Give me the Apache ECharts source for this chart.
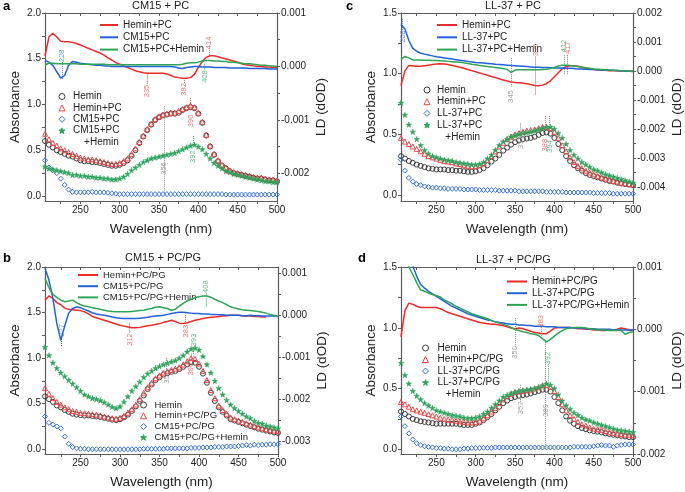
<!DOCTYPE html>
<html>
<head>
<meta charset="utf-8">
<script src="https://cdn.jsdelivr.net/npm/echarts@6/dist/echarts.min.js"></script>
<style>
html, body { margin: 0; background: #fff; }
#chart { width: 685px; height: 492px; }
</style>
</head>
<body>
<div id="chart"></div>
<script>
// wavelength grid (nm), shared by every curve
const wl = [205,210,215,220,225,230,235,240,245,250,255,260,265,270,275,280,285,290,295,300,
  305,310,315,320,325,330,335,340,345,350,355,360,365,370,375,380,385,390,395,400,
  405,410,415,420,425,430,435,440,445,450,455,460,465,470,475,480,485,490,495,500]

const wlLabels = [250, 300, 350, 400, 450, 500]
const wlTicks = [225, 250, 275, 300, 325, 350, 375, 400, 425, 450, 475, 500]
const abs2Labels = [0, 0.5, 1, 1.5, 2]
const abs15Labels = [0, 0.5, 1, 1.5]
// LD values below are in units of 0.001 dOD
const ldLabelsA = [-2, -1, 0, 1]
const ldLabelsB = [-3, -2, -1, 0, 1]
const ldLabelsC = [-4, -3, -2, -1, 0, 1, 2]
const ldLabelsD = [-2, -1, 0, 1]

// ---- a : CM15 + PC ----
const aHemin = [0.60,0.56,0.53,0.50,0.48,0.46,0.44,0.43,0.41,0.39,
  0.38,0.38,0.37,0.37,0.36,0.35,0.34,0.33,0.33,0.34,
  0.36,0.39,0.44,0.50,0.58,0.65,0.72,0.78,0.83,0.86,
  0.88,0.89,0.90,0.90,0.91,0.94,0.96,0.97,0.96,0.90,
  0.80,0.66,0.54,0.45,0.38,0.33,0.30,0.27,0.25,0.24,
  0.23,0.22,0.21,0.20,0.19,0.19,0.18,0.17,0.17,0.16]
const aHemPC = [0.68,0.62,0.58,0.55,0.52,0.50,0.48,0.46,0.44,0.42,
  0.41,0.40,0.40,0.39,0.38,0.37,0.36,0.35,0.35,0.36,
  0.38,0.41,0.46,0.52,0.59,0.66,0.73,0.79,0.84,0.87,
  0.89,0.90,0.91,0.91,0.93,0.95,0.97,0.99,0.97,0.91,
  0.81,0.67,0.55,0.46,0.39,0.34,0.31,0.28,0.26,0.25,
  0.24,0.23,0.22,0.21,0.20,0.20,0.19,0.18,0.18,0.17]
const aPep = [0.39,0.31,0.28,0.25,0.19,0.12,0.07,0.045,0.04,0.04,
  0.04,0.04,0.045,0.04,0.04,0.04,0.035,0.03,0.025,0.02,
  0.02,0.02,0.02,0.02,0.02,0.02,0.02,0.02,0.02,0.02,
  0.02,0.02,0.02,0.02,0.02,0.02,0.02,0.02,0.02,0.02,
  0.02,0.02,0.02,0.02,0.02,0.02,0.015,0.015,0.015,0.015,
  0.015,0.015,0.015,0.015,0.015,0.015,0.015,0.015,0.015,0.015]
const aMix = [0.32,0.30,0.29,0.28,0.27,0.26,0.25,0.23,0.23,0.22,
  0.22,0.21,0.21,0.20,0.20,0.19,0.19,0.18,0.18,0.19,
  0.21,0.24,0.28,0.31,0.34,0.37,0.39,0.41,0.42,0.43,
  0.44,0.45,0.46,0.47,0.49,0.51,0.53,0.55,0.56,0.54,
  0.51,0.46,0.41,0.36,0.33,0.30,0.27,0.26,0.24,0.23,
  0.22,0.21,0.20,0.19,0.18,0.17,0.16,0.16,0.15,0.15]
const aLdHem = [0.20,0.55,0.62,0.55,0.47,0.46,0.46,0.45,0.43,0.40,
  0.37,0.34,0.31,0.28,0.25,0.21,0.16,0.12,0.07,0.04,
  0.01,-0.02,-0.05,-0.08,-0.10,-0.12,-0.13,-0.13,-0.13,-0.13,
  -0.13,-0.14,-0.17,-0.20,-0.21,-0.22,-0.22,-0.21,-0.15,-0.02,
  0.09,0.17,0.20,0.20,0.18,0.16,0.14,0.12,0.10,0.08,
  0.05,0.03,0.02,0.01,0.00,0.00,-0.01,-0.01,-0.02,-0.02]
const aLdPep = [0.11,0.08,0.02,-0.10,-0.22,-0.17,0.02,0.09,0.08,0.06,
  0.05,0.04,0.03,0.02,0.02,0.01,0.01,0.00,0.00,0.00,
  0.00,0.00,0.00,0.00,0.00,0.00,0.00,0.00,0.00,0.00,
  0.00,0.00,0.00,-0.01,-0.03,-0.04,-0.02,-0.01,0.00,0.00,
  -0.01,-0.01,-0.01,-0.02,-0.02,-0.02,-0.02,-0.03,-0.03,-0.03,
  -0.03,-0.03,-0.04,-0.04,-0.04,-0.04,-0.04,-0.05,-0.05,-0.05]
const aLdMix = [0.03,0.06,0.06,0.05,0.05,0.05,0.05,0.05,0.05,0.04,
  0.04,0.04,0.04,0.04,0.04,0.04,0.03,0.03,0.03,0.03,
  0.03,0.03,0.03,0.03,0.03,0.03,0.03,0.03,0.03,0.03,
  0.03,0.03,0.03,0.03,0.03,0.04,0.06,0.07,0.07,0.08,
  0.10,0.11,0.11,0.10,0.10,0.09,0.09,0.08,0.08,0.07,
  0.06,0.05,0.05,0.04,0.03,0.02,0.02,0.01,0.01,0.00]
// [wavelength, text, text y, line from, line to, colour key]
const aNotesLd = [[227,'228',0.20,0.08,-0.24,'pep'],[335,'335',-0.46,-0.115,-0.34,'hem'],
  [382,'382',-0.43,-0.22,-0.33,'hem'],[408,'408',-0.19,0.05,-0.07,'mix'],[414,'414',0.44,0.34,0.17,'hem']]
const aNotesAbs = [[356,'356',0.30,0.98,0.0,'ref'],[390,'390',0.82,1.07,0.98,'hem'],[393,'392',0.43,0.655,0.556,'mix']]

// ---- b : CM15 + PC/PG ----
const bHemin = [0.58,0.55,0.52,0.48,0.46,0.43,0.41,0.39,0.38,0.375,
  0.37,0.37,0.365,0.36,0.355,0.345,0.335,0.325,0.32,0.33,
  0.35,0.38,0.42,0.47,0.53,0.59,0.66,0.71,0.76,0.79,
  0.82,0.835,0.85,0.86,0.88,0.905,0.93,0.955,0.95,0.905,
  0.83,0.73,0.62,0.53,0.46,0.41,0.37,0.33,0.315,0.30,
  0.285,0.27,0.255,0.24,0.225,0.215,0.205,0.195,0.185,0.18]
const bHemPC = [0.67,0.61,0.56,0.52,0.49,0.46,0.44,0.42,0.41,0.40,
  0.395,0.39,0.385,0.38,0.37,0.36,0.35,0.34,0.335,0.345,
  0.365,0.40,0.44,0.49,0.55,0.62,0.68,0.73,0.78,0.81,
  0.84,0.855,0.87,0.885,0.90,0.93,0.965,1.00,0.99,0.94,
  0.86,0.76,0.65,0.56,0.48,0.43,0.39,0.35,0.33,0.315,
  0.30,0.285,0.27,0.255,0.24,0.23,0.22,0.21,0.205,0.20]
const bPep = [0.36,0.29,0.27,0.25,0.23,0.14,0.06,0.025,0.01,0.005,
  0.005,0.00,0.00,0.00,0.00,0.00,0.00,0.00,0.00,0.00,
  0.00,0.00,0.00,0.00,0.00,0.005,0.005,0.005,0.005,0.005,
  0.005,0.01,0.01,0.01,0.01,0.01,0.01,0.015,0.015,0.015,
  0.02,0.02,0.02,0.025,0.025,0.025,0.03,0.03,0.03,0.035,
  0.04,0.045,0.04,0.05,0.045,0.05,0.05,0.055,0.055,0.055]
const bMix = [1.12,1.03,0.95,0.89,0.84,0.80,0.76,0.72,0.68,0.64,
  0.60,0.58,0.56,0.55,0.535,0.515,0.49,0.465,0.45,0.47,
  0.52,0.58,0.64,0.69,0.74,0.79,0.83,0.86,0.89,0.91,
  0.93,0.945,0.96,0.975,1.00,1.03,1.07,1.10,1.11,1.09,
  1.02,0.93,0.84,0.75,0.67,0.60,0.54,0.49,0.45,0.42,
  0.39,0.36,0.34,0.31,0.29,0.28,0.26,0.25,0.24,0.23]
const bLdHem = [0.36,0.46,0.40,0.30,0.25,0.17,0.14,0.13,0.12,0.11,
  0.08,0.03,-0.03,-0.06,-0.09,-0.12,-0.15,-0.18,-0.21,-0.24,
  -0.26,-0.28,-0.30,-0.30,-0.29,-0.27,-0.25,-0.24,-0.22,-0.20,
  -0.17,-0.15,-0.12,-0.15,-0.19,-0.20,-0.18,-0.15,-0.12,-0.10,
  -0.08,-0.06,-0.05,-0.04,-0.03,-0.02,-0.01,0.00,0.00,0.00,
  -0.01,-0.02,-0.02,-0.03,-0.03,-0.04,-0.04,null,null,null]
const bLdPep = [1.12,0.84,0.40,-0.20,-0.60,-0.25,0.05,0.16,0.20,0.18,
  0.14,0.10,0.06,0.03,0.01,0.00,-0.02,-0.04,-0.06,-0.07,
  -0.08,-0.08,-0.08,-0.08,-0.07,-0.06,-0.05,-0.03,-0.02,-0.01,
  0.00,0.02,0.04,0.06,0.07,0.07,0.06,0.05,0.04,0.04,
  0.03,0.03,0.02,0.02,0.01,0.01,0.00,0.00,0.00,0.00,
  -0.01,-0.01,0.00,-0.01,-0.01,-0.02,-0.02,-0.02,-0.02,-0.03]
const bLdMix = [0.88,0.66,0.50,0.42,0.36,0.32,0.34,0.36,0.30,0.25,
  0.22,0.20,0.18,0.16,0.14,0.12,0.10,0.09,0.08,0.08,
  0.08,0.08,0.09,0.10,0.11,0.12,0.14,0.16,0.19,0.20,
  0.18,0.16,0.12,0.14,0.22,0.28,0.34,0.38,0.42,0.44,
  0.46,0.46,0.43,0.38,0.34,0.30,0.25,0.20,0.17,0.15,
  0.13,0.12,0.11,0.10,0.09,0.07,0.05,0.02,0.00,-0.03]
const bNotesLd = [[226,'227',-0.36,-0.52,-0.76,'pep'],[312,'312',-0.58,-0.2,-0.42,'hem'],
  [383,'383',-0.38,0.0,-0.22,'hem'],[409,'408',0.68,0.52,0.2,'mix']]
const bNotesAbs = [[359,'359',0.79,1.0,0.87,'ref'],[390,'390',0.88,1.05,0.98,'hem'],[393,'393',1.20,1.12,1.03,'mix']]

// ---- c : LL-37 + PC ----
const cHemin = [0.32,0.30,0.28,0.265,0.25,0.24,0.23,0.22,0.215,0.21,
  0.21,0.21,0.205,0.205,0.20,0.20,0.195,0.19,0.19,0.195,
  0.205,0.22,0.245,0.275,0.30,0.33,0.365,0.39,0.415,0.435,
  0.45,0.46,0.465,0.47,0.48,0.495,0.51,0.515,0.505,0.47,
  0.42,0.37,0.32,0.28,0.245,0.22,0.20,0.18,0.165,0.155,
  0.145,0.135,0.125,0.115,0.11,0.10,0.095,0.09,0.085,0.08]
const cHemPC = [0.47,0.44,0.42,0.40,0.38,0.36,0.34,0.32,0.31,0.30,
  0.29,0.28,0.275,0.27,0.26,0.255,0.245,0.24,0.235,0.235,
  0.245,0.26,0.29,0.32,0.36,0.40,0.43,0.46,0.48,0.50,
  0.51,0.52,0.53,0.535,0.54,0.55,0.56,0.56,0.55,0.52,
  0.47,0.41,0.36,0.31,0.27,0.24,0.22,0.20,0.185,0.17,
  0.155,0.145,0.135,0.125,0.115,0.11,0.10,0.095,0.09,0.085]
const cPep = [0.29,0.20,0.14,0.11,0.09,0.08,0.07,0.065,0.06,0.06,
  0.055,0.055,0.05,0.05,0.05,0.05,0.045,0.045,0.045,0.045,
  0.04,0.04,0.04,0.04,0.04,0.035,0.035,0.035,0.035,0.035,
  0.03,0.03,0.03,0.03,0.03,0.03,0.03,0.025,0.025,0.025,
  0.025,0.025,0.02,0.02,0.02,0.02,0.02,0.02,0.02,0.015,
  0.015,0.015,0.015,0.015,0.01,0.01,0.01,0.01,0.01,0.01]
const cMix = [0.76,0.66,0.58,0.52,0.46,0.41,0.37,0.34,0.32,0.31,
  0.30,0.29,0.285,0.28,0.27,0.265,0.26,0.255,0.25,0.25,
  0.255,0.27,0.30,0.33,0.37,0.41,0.44,0.46,0.48,0.49,
  0.50,0.51,0.515,0.52,0.53,0.54,0.55,0.56,0.56,0.545,
  0.51,0.47,0.42,0.37,0.33,0.30,0.27,0.25,0.23,0.21,
  0.20,0.185,0.17,0.16,0.15,0.14,0.13,0.12,0.11,0.10]
const cLdHem = [-0.50,0.00,0.19,0.18,0.16,0.16,0.18,0.20,0.22,0.24,
  0.25,0.24,0.22,0.19,0.16,0.13,0.09,0.05,0.01,-0.03,
  -0.07,-0.11,-0.15,-0.19,-0.23,-0.27,-0.31,-0.35,-0.38,-0.40,
  -0.41,-0.42,-0.44,-0.47,-0.50,-0.51,-0.49,-0.44,-0.34,-0.20,
  -0.06,0.07,0.15,0.18,0.18,0.16,0.13,0.10,0.07,0.05,
  0.03,0.02,0.02,0.01,0.01,0.01,0.00,0.00,0.00,0.00]
const cLdPep = [1.60,1.45,1.05,0.78,0.68,0.61,0.58,0.55,0.52,0.49,
  0.47,0.45,0.43,0.41,0.39,0.37,0.35,0.33,0.31,0.29,
  0.28,0.27,0.26,0.25,0.23,0.22,0.21,0.20,0.19,0.18,
  0.17,0.16,0.15,0.14,0.13,0.13,0.12,0.12,0.11,0.10,
  0.10,0.10,0.09,0.09,0.08,0.07,0.07,0.06,0.05,0.05,
  0.04,0.03,0.03,0.02,0.02,0.01,0.01,0.00,-0.01,-0.02]
const cLdMix = [0.40,0.50,0.45,0.38,0.38,0.38,0.37,0.37,0.36,0.36,
  0.35,0.34,0.33,0.32,0.31,0.30,0.28,0.26,0.23,0.21,
  0.19,0.17,0.15,0.14,0.12,0.10,0.08,0.05,-0.05,0.03,
  0.04,0.04,0.04,0.04,0.04,0.04,0.05,0.06,0.08,0.12,
  0.17,0.20,0.20,0.19,0.17,0.15,0.13,0.11,0.09,0.07,
  0.06,0.05,0.04,0.03,0.02,0.02,0.01,0.01,0.00,-0.02]
const cNotesLd = [[207,'208',1.19,1.8,1.42,'pep'],[345,'345',-0.88,0.44,-0.55,'ref'],
  [376,'375',0.73,0.5,-0.83,'hem'],[412,'412',0.86,0.56,-0.14,'mix'],[417,'417',0.80,0.56,-0.14,'hem']]
const cNotesAbs = [[357,'357',0.43,0.59,0.495,'ref'],[388,'388',0.41,0.65,0.55,'hem'],[394,'394',0.40,0.65,0.54,'mix']]

// ---- d : LL-37 + PC/PG ----
const dHemin = [0.31,0.29,0.27,0.25,0.24,0.23,0.225,0.22,0.215,0.21,
  0.21,0.21,0.21,0.21,0.21,0.205,0.20,0.20,0.20,0.21,
  0.22,0.24,0.265,0.29,0.32,0.35,0.38,0.40,0.42,0.43,
  0.44,0.445,0.45,0.46,0.47,0.48,0.49,0.49,0.475,0.43,
  0.38,0.32,0.27,0.235,0.21,0.19,0.175,0.165,0.155,0.15,
  0.145,0.14,0.13,0.125,0.12,0.115,0.11,0.105,0.10,0.10]
const dHemPC = [0.39,0.37,0.35,0.33,0.32,0.31,0.30,0.29,0.28,0.27,
  0.26,0.25,0.245,0.24,0.235,0.23,0.225,0.22,0.22,0.225,
  0.235,0.255,0.28,0.31,0.34,0.38,0.41,0.435,0.455,0.47,
  0.475,0.48,0.485,0.49,0.50,0.51,0.525,0.53,0.515,0.48,
  0.43,0.37,0.32,0.28,0.25,0.225,0.205,0.195,0.18,0.17,
  0.165,0.16,0.15,0.14,0.135,0.13,0.125,0.12,0.12,0.115]
const dPep = [0.27,0.19,0.13,0.08,0.05,0.035,0.025,0.02,0.015,0.01,
  0.01,0.005,0.005,0.00,0.00,0.00,0.005,0.005,0.01,0.01,
  0.01,0.012,0.012,0.012,0.015,0.015,0.015,0.015,0.015,0.015,
  0.015,0.015,0.015,0.015,0.015,0.015,0.015,0.015,0.015,0.015,
  0.015,0.015,0.015,0.015,0.02,0.02,0.02,0.02,0.02,0.025,
  0.03,0.035,0.03,0.03,0.02,0.03,0.035,0.04,0.04,0.04]
const dMix = [0.71,0.61,0.54,0.48,0.44,0.41,0.38,0.36,0.34,0.32,
  0.31,0.30,0.29,0.28,0.275,0.27,0.26,0.255,0.255,0.26,
  0.27,0.29,0.31,0.34,0.37,0.40,0.43,0.445,0.46,0.47,
  0.48,0.485,0.49,0.495,0.50,0.51,0.525,0.54,0.53,0.50,
  0.45,0.40,0.36,0.33,0.30,0.28,0.26,0.245,0.235,0.22,
  0.21,0.20,0.19,0.18,0.17,0.16,0.155,0.15,0.145,0.14]
const dLdHem = [-0.12,0.30,0.42,0.40,0.37,0.35,0.35,0.35,0.35,0.35,
  0.33,0.30,0.27,0.25,0.23,0.21,0.19,0.17,0.15,0.13,
  0.11,0.10,0.09,0.08,0.08,0.07,0.06,0.04,0.02,0.01,
  0.02,0.01,-0.01,-0.03,-0.05,-0.06,-0.07,-0.07,-0.03,0.02,
  0.03,0.03,0.03,0.03,0.02,0.01,0.01,0.00,0.00,-0.01,
  -0.01,-0.02,-0.02,-0.01,-0.01,0.00,0.02,0.01,-0.01,-0.02]
const dLdPep = [1.60,1.40,1.20,1.02,0.85,0.72,0.66,0.61,0.57,0.53,
  0.49,0.45,0.41,0.37,0.34,0.31,0.28,0.25,0.23,0.21,
  0.19,0.17,0.15,0.14,0.12,0.11,0.10,0.09,0.08,0.08,
  0.07,0.07,0.06,0.06,0.05,0.05,0.05,0.04,0.04,0.04,
  0.03,0.03,0.03,0.03,0.02,0.02,0.02,0.01,0.01,0.01,
  0.00,0.00,0.00,0.00,-0.01,-0.01,-0.01,-0.01,-0.01,-0.01]
const dLdMix = [1.40,1.20,1.00,0.88,0.75,0.63,0.61,0.58,0.56,0.54,
  0.52,0.47,0.44,0.41,0.37,0.34,0.31,0.28,0.25,0.23,
  0.21,0.19,0.17,0.14,0.12,0.10,0.08,0.06,0.03,0.00,
  -0.02,-0.04,-0.05,-0.07,-0.08,-0.10,-0.15,-0.20,-0.16,-0.11,
  -0.06,-0.02,0.01,0.02,0.03,0.03,0.03,0.02,0.01,0.00,
  -0.01,-0.01,-0.01,-0.02,-0.02,-0.02,-0.02,-0.08,-0.05,-0.04]
const dNotesLd = [[350,'350',-0.37,0.18,-0.28,'ref'],[383,'383',0.13,0.04,-0.12,'hem']]
const dNotesAbs = [[389,'389',0.32,0.90,0.0,'ref'],[357,'357',0.34,0.53,0.38,'ref'],[392,'392',0.75,0.70,0.54,'mix']]

const FONT = "'Liberation Sans', Arial, sans-serif"
const INK = '#222'
const AXIS = '#5c5c5c'
const LINE_COL = ['#ee2b2b', '#2162d8', '#2fa457']
const NOTE_COL = { hem: '#e25555', pep: '#4c7bd4', mix: '#43ad6c', ref: '#8a8a8a' }
const STAR = 'path://M5,0L6.2,3.6L10,3.6L7,5.9L8.1,9.5L5,7.3L1.9,9.5L3,5.9L0,3.6L3.8,3.6Z'
const DOTS = [
  { symbol: 'circle', size: 5, fill: 'rgba(0,0,0,0)', stroke: '#3c3c3c', bw: 1 },
  { symbol: 'triangle', size: 5, fill: 'rgba(0,0,0,0)', stroke: '#e84848', bw: 1 },
  { symbol: 'diamond', size: 5, fill: 'rgba(0,0,0,0)', stroke: '#3570e0', bw: 1 },
  { symbol: STAR, size: 5.5, fill: '#2ea35c', stroke: '#2ea35c', bw: 0.5 }
]

const panels = [
  {
    id: 'a', title: 'CM15 + PC', titleLeft: 132, titleTop: 0, letterLeft: 3, letterTop: 0,
    grid: { left: 45, top: 13, width: 232, height: 188 },
    absMin: -0.055, absMax: 2, absLabels: abs2Labels,
    ldMin: -2.52, ldMax: 1, ldLabels: ldLabelsA,
    abs: [aHemin, aHemPC, aPep, aMix], ld: [aLdHem, aLdPep, aLdMix],
    absNames: ['Hemin', 'Hemin+PC', 'CM15+PC', 'CM15+PC'], extra: '    +Hemin',
    ldNames: ['Hemin+PC', 'CM15+PC', 'CM15+PC+Hemin'],
    notesLd: aNotesLd, notesAbs: aNotesAbs,
    lineLegend: { left: 100, top: 20, itemGap: 2.3, fontSize: 10, itemWidth: 18 },
    dotLegend: { left: 58.5, top: 91.5, itemGap: 1.4, fontSize: 10, pad: 3 }
  },
  {
    id: 'b', title: 'CM15 + PC/PG', titleLeft: 125, titleTop: 252.5, letterLeft: 3, letterTop: 252,
    grid: { left: 45, top: 267, width: 233, height: 187 },
    absMin: -0.052, absMax: 2, absLabels: abs2Labels,
    ldMin: -3.31, ldMax: 1.15, ldLabels: ldLabelsB,
    abs: [bHemin, bHemPC, bPep, bMix], ld: [bLdHem, bLdPep, bLdMix],
    absNames: ['Hemin', 'Hemin+PC/PG', 'CM15+PC/PG', 'CM15+PC/PG+Hemin'], extra: null,
    ldNames: ['Hemin+PC/PG', 'CM15+PC/PG', 'CM15+PC/PG+Hemin'],
    notesLd: bNotesLd, notesAbs: bNotesAbs,
    lineLegend: { left: 78, top: 270, itemGap: 1.2, fontSize: 9.5, itemWidth: 20 },
    dotLegend: { left: 140, top: 400, itemGap: 0.8, fontSize: 9.5, pad: 3 }
  },
  {
    id: 'c', title: 'LL-37 + PC', titleLeft: 485, titleTop: 0, letterLeft: 346, letterTop: 0,
    grid: { left: 401, top: 13, width: 233, height: 188 },
    absMin: -0.05, absMax: 1.5, absLabels: abs15Labels,
    ldMin: -4.49, ldMax: 2, ldLabels: ldLabelsC,
    abs: [cHemin, cHemPC, cPep, cMix], ld: [cLdHem, cLdPep, cLdMix],
    absNames: ['Hemin', 'Hemin+PC', 'LL-37+PC', 'LL-37+PC'], extra: '   +Hemin',
    ldNames: ['Hemin+PC', 'LL-37+PC', 'LL-37+PC+Hemin'],
    notesLd: cNotesLd, notesAbs: cNotesAbs,
    lineLegend: { left: 437, top: 20, itemGap: 2.3, fontSize: 10, itemWidth: 20 },
    dotLegend: { left: 423.5, top: 85, itemGap: 1.7, fontSize: 10, pad: 2 }
  },
  {
    id: 'd', title: 'LL-37 + PC/PG', titleLeft: 476, titleTop: 254, letterLeft: 358, letterTop: 252,
    grid: { left: 401, top: 267, width: 234, height: 187 },
    absMin: -0.039, absMax: 1.5, absLabels: abs15Labels,
    ldMin: -2, ldMax: 1, ldLabels: ldLabelsD,
    abs: [dHemin, dHemPC, dPep, dMix], ld: [dLdHem, dLdPep, dLdMix],
    absNames: ['Hemin', 'Hemin+PC/PG', 'LL-37+PC/PG', 'LL-37+PC/PG'], extra: '   +Hemin',
    ldNames: ['Hemin+PC/PG', 'LL-37+PC/PG', 'LL-37+PC/PG+Hemin'],
    notesLd: dNotesLd, notesAbs: dNotesAbs,
    lineLegend: { left: 507, top: 276.5, itemGap: 1.7, fontSize: 10, itemWidth: 20 },
    dotLegend: { left: 422, top: 343, itemGap: 1.5, fontSize: 10, pad: 4 }
  }
]

function pairs(ys) {
  return wl.map((x, i) => [x, ys[i]])
}
// minor ticks halfway between labels
function withHalves(vals) {
  const out = []
  vals.forEach((v, i) => {
    out.push(v)
    if (i < vals.length - 1) out.push((v + vals[i + 1]) / 2)
  })
  return out
}

const labelOf = {}
const grid = [], xAxis = [], yAxis = [], series = [], legend = [], title = []
const axisLine = { show: true, onZero: false, lineStyle: { color: AXIS, width: 1.2 } }
const tickStyle = { color: AXIS, width: 1 }

panels.forEach((p, i) => {
  grid.push(p.grid)
  const xb = 2 * i, ya = 2 * i, yl = 2 * i + 1

  xAxis.push({
    type: 'value', gridIndex: i, min: 205, max: 500, position: 'bottom',
    name: 'Wavelength (nm)', nameLocation: 'middle', nameGap: 21,
    nameTextStyle: { fontSize: 13.5, color: INK },
    axisLine: axisLine,
    axisTick: { customValues: wlTicks, length: 3, lineStyle: tickStyle },
    axisLabel: { customValues: wlLabels, fontSize: 10, color: INK, margin: 4 },
    splitLine: { show: false }
  })
  xAxis.push({
    type: 'value', gridIndex: i, min: 205, max: 500, position: 'top',
    axisLine: axisLine,
    axisTick: { inside: true, customValues: wlTicks, length: 3, lineStyle: tickStyle },
    axisLabel: { show: false }, splitLine: { show: false }
  })
  yAxis.push({
    type: 'value', gridIndex: i, min: p.absMin, max: p.absMax, position: 'left',
    name: 'Absorbance', nameLocation: 'middle', nameGap: 23, nameRotate: 90,
    nameTextStyle: { fontSize: 13.5, color: INK },
    axisLine: axisLine,
    axisTick: { customValues: withHalves(p.absLabels), length: 3, lineStyle: tickStyle },
    axisLabel: { customValues: p.absLabels, fontSize: 10, color: INK, margin: 4, formatter: v => v.toFixed(1) },
    splitLine: { show: false }
  })
  yAxis.push({
    type: 'value', gridIndex: i, min: p.ldMin, max: p.ldMax, position: 'right',
    name: 'LD (dOD)', nameLocation: 'middle', nameGap: 37, nameRotate: 90,
    nameTextStyle: { fontSize: 13.5, color: INK },
    axisLine: axisLine,
    axisTick: { customValues: withHalves(p.ldLabels), length: 3, lineStyle: tickStyle },
    axisLabel: { customValues: p.ldLabels, fontSize: 10, color: INK, margin: 4, formatter: v => (v / 1000).toFixed(3) },
    splitLine: { show: false }
  })

  const dotNames = []
  p.abs.forEach((ys, k) => {
    const name = p.id + '-abs' + k
    labelOf[name] = p.absNames[k]
    dotNames.push(name)
    series.push({
      type: 'scatter', name: name, xAxisIndex: xb, yAxisIndex: ya, data: pairs(ys),
      symbol: DOTS[k].symbol, symbolSize: DOTS[k].size, z: 2 + k,
      itemStyle: { color: DOTS[k].fill, borderColor: DOTS[k].stroke, borderWidth: DOTS[k].bw, opacity: 1 },
      emphasis: { disabled: true }
    })
  })
  if (p.extra) {
    const name = p.id + '-extra'
    labelOf[name] = p.extra
    dotNames.push(name)
    series.push({
      type: 'scatter', name: name, xAxisIndex: xb, yAxisIndex: ya, data: [], symbolSize: 0,
      itemStyle: { color: 'rgba(0,0,0,0)', borderColor: 'rgba(0,0,0,0)', borderWidth: 0 }
    })
  }

  const lineNames = []
  p.ld.forEach((ys, k) => {
    const name = p.id + '-ld' + k
    labelOf[name] = p.ldNames[k]
    lineNames.push(name)
    series.push({
      type: 'line', name: name, xAxisIndex: xb, yAxisIndex: yl, data: pairs(ys),
      symbol: 'none', z: 6, connectNulls: false,
      lineStyle: { color: LINE_COL[k], width: 1.5 }, itemStyle: { color: LINE_COL[k] },
      emphasis: { disabled: true }
    })
  })

  const noteSeries = (notes, yIdx, tag) => ({
    type: 'scatter', name: p.id + '-' + tag, xAxisIndex: xb, yAxisIndex: yIdx,
    symbolSize: 1, z: 8, itemStyle: { color: 'rgba(0,0,0,0)' }, silent: true,
    data: notes.map(n => ({ name: n[1], value: [n[0], n[2]], label: { color: NOTE_COL[n[5]] } })),
    label: { show: true, position: 'inside', rotate: 90, fontSize: 7.5, formatter: q => q.name },
    markLine: {
      silent: true, symbol: ['none', 'none'], label: { show: false },
      lineStyle: { type: 'dotted', width: 1 },
      data: notes.map(n => [
        { coord: [n[0], n[3]], lineStyle: { color: NOTE_COL[n[5]] } },
        { coord: [n[0], n[4]] }
      ])
    }
  })
  series.push(noteSeries(p.notesLd, yl, 'notes-ld'))
  series.push(noteSeries(p.notesAbs, ya, 'notes-abs'))

  legend.push({
    orient: 'vertical', left: p.lineLegend.left, top: p.lineLegend.top, padding: 0,
    itemGap: p.lineLegend.itemGap, itemWidth: p.lineLegend.itemWidth, itemHeight: 2,
    icon: 'rect', selectedMode: false, data: lineNames, formatter: n => labelOf[n],
    textStyle: { fontSize: p.lineLegend.fontSize, color: INK }
  })
  legend.push({
    orient: 'vertical', left: p.dotLegend.left, top: p.dotLegend.top, padding: 0,
    itemGap: p.dotLegend.itemGap, itemWidth: 6, itemHeight: 6,
    selectedMode: false, data: dotNames, formatter: n => labelOf[n],
    itemStyle: { borderWidth: 1 },
    textStyle: { fontSize: p.dotLegend.fontSize, color: INK, padding: [0, 0, 0, p.dotLegend.pad] }
  })

  title.push({
    text: p.title, left: p.titleLeft, top: p.titleTop, padding: 0,
    textStyle: { fontSize: 11, fontWeight: 'normal', color: INK }
  })
  title.push({
    text: p.id, left: p.letterLeft, top: p.letterTop, padding: 0,
    textStyle: { fontSize: 13, fontWeight: 'bold', color: '#000' }
  })
})

const chart = echarts.init(document.getElementById('chart'))
chart.setOption({
  backgroundColor: '#fff',
  animation: false,
  textStyle: { fontFamily: FONT },
  title: title,
  legend: legend,
  grid: grid,
  xAxis: xAxis,
  yAxis: yAxis,
  series: series
})
</script>
</body>
</html>
